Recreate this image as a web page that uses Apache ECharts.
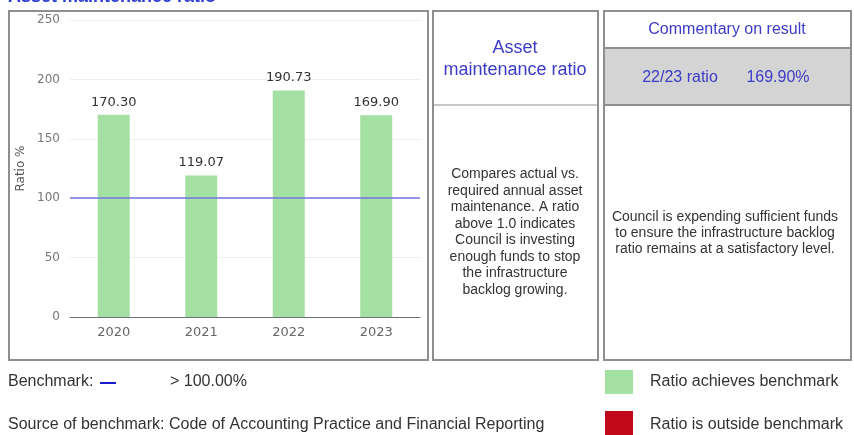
<!DOCTYPE html>
<html>
<head>
<meta charset="utf-8">
<script src="https://cdn.jsdelivr.net/npm/echarts@6/dist/echarts.min.js"></script>
<style>
  html, body { margin: 0; padding: 0; background: #fff; }
  #chart { width: 854px; height: 435px; }
</style>
</head>
<body>
<div id="chart"></div>
<script>
// data
const years = ['2020', '2021', '2022', '2023']
const ratios = [170.30, 119.07, 190.73, 169.90]
const benchmark = 100
const yTicks = [0, 50, 100, 150, 200, 250]

const descLines = [
  'Compares actual vs.',
  'required annual asset',
  'maintenance. A ratio',
  'above 1.0 indicates',
  'Council is investing',
  'enough funds to stop',
  'the infrastructure',
  'backlog growing.'
]
const commentLines = [
  'Council is expending sufficient funds',
  'to ensure the infrastructure backlog',
  'ratio remains at a satisfactory level.'
]

const green = '#a4e0a2'
const red = '#c00a1c'
const blueText = '#3b3bc8'
const boxLine = '#8f8f8f'
const sans = '"Liberation Sans", Arial, sans-serif'

const box = (x, y, w, h, fill) => ({
  type: 'rect',
  shape: { x: x, y: y, width: w, height: h },
  style: { fill: fill || 'none', stroke: boxLine, lineWidth: 2 },
  silent: true
})
const txt = (x, y, text, opts) => ({
  type: 'text',
  x: x, y: y,
  style: Object.assign({
    text: text,
    font: '16px ' + sans,
    fill: '#333',
    align: 'left',
    verticalAlign: 'middle'
  }, opts || {}),
  silent: true
})

const Chart = echarts.init(document.getElementById('chart'))
Chart.setOption({
  animation: false,
  grid: { left: 70, right: 434, top: 20, bottom: 118 },
  xAxis: {
    type: 'category',
    data: years,
    axisLine: { lineStyle: { color: '#6e7079' } },
    axisTick: { lineStyle: { color: '#d8dce6' }, length: 5 },
    axisLabel: { color: '#666', fontSize: 13, fontFamily: 'DejaVu Sans', margin: 9 }
  },
  yAxis: {
    type: 'value',
    min: 0,
    max: yTicks[yTicks.length - 1],
    interval: yTicks[1] - yTicks[0],
    name: 'Ratio %',
    nameLocation: 'middle',
    nameGap: 43,
    nameTextStyle: { color: '#555', fontSize: 12, fontFamily: 'DejaVu Sans' },
    axisLabel: { color: '#777', fontSize: 12, fontFamily: 'DejaVu Sans', margin: 10 },
    splitLine: { lineStyle: { color: '#eeeeee' } }
  },
  series: [{
    type: 'bar',
    data: ratios,
    barWidth: 32,
    itemStyle: { color: green },
    label: {
      show: true,
      position: 'top',
      distance: 6,
      color: '#333',
      fontSize: 13,
      fontFamily: 'DejaVu Sans',
      formatter: p => p.value.toFixed(2)
    },
    markLine: {
      silent: true,
      symbol: 'none',
      label: { show: false },
      lineStyle: { color: '#7474e6', width: 1.5, type: 'solid' },
      data: [{ yAxis: benchmark }]
    }
  }],
  graphic: [
    // page title, cut at the top edge
    txt(8, 6, 'Asset maintenance ratio', { font: 'bold 18px ' + sans, fill: '#2e3fd6', verticalAlign: 'bottom' }),
    // panels
    box(9, 11, 419, 349),
    box(433, 11, 165, 349),
    { type: 'line', shape: { x1: 433, y1: 105, x2: 598, y2: 105 }, style: { stroke: boxLine, lineWidth: 1 }, silent: true },
    box(604, 11, 247, 349),
    box(604, 48, 247, 57, '#d4d4d4'),
    // middle panel
    txt(515, 59, 'Asset\nmaintenance ratio', { font: '18px ' + sans, fill: blueText, align: 'center', lineHeight: 22 }),
    txt(515, 232, descLines.join('\n'), { font: '14px ' + sans, align: 'center', lineHeight: 16.5 }),
    // right panel
    txt(727, 30, 'Commentary on result', { font: '16px ' + sans, fill: blueText, align: 'center' }),
    txt(680, 78, '22/23 ratio', { font: '16px ' + sans, fill: blueText, align: 'center' }),
    txt(778, 78, ratios[ratios.length - 1].toFixed(2) + '%', { font: '16px ' + sans, fill: blueText, align: 'center' }),
    txt(725, 233, commentLines.join('\n'), { font: '14px ' + sans, align: 'center', lineHeight: 16 }),
    // footer
    txt(8, 382, 'Benchmark:', { font: '16px ' + sans }),
    { type: 'line', shape: { x1: 100, y1: 383, x2: 116, y2: 383 }, style: { stroke: '#1a1ad0', lineWidth: 2 }, silent: true },
    txt(170, 382, '> ' + benchmark.toFixed(2) + '%', { font: '16px ' + sans }),
    txt(8, 425, 'Source of benchmark: Code of Accounting Practice and Financial Reporting', { font: '16px ' + sans }),
    { type: 'rect', shape: { x: 605, y: 370, width: 28, height: 24 }, style: { fill: green }, silent: true },
    { type: 'rect', shape: { x: 605, y: 411, width: 28, height: 26 }, style: { fill: red }, silent: true },
    txt(650, 382, 'Ratio achieves benchmark', { font: '16px ' + sans }),
    txt(650, 425, 'Ratio is outside benchmark', { font: '16px ' + sans })
  ]
})
</script>
</body>
</html>
